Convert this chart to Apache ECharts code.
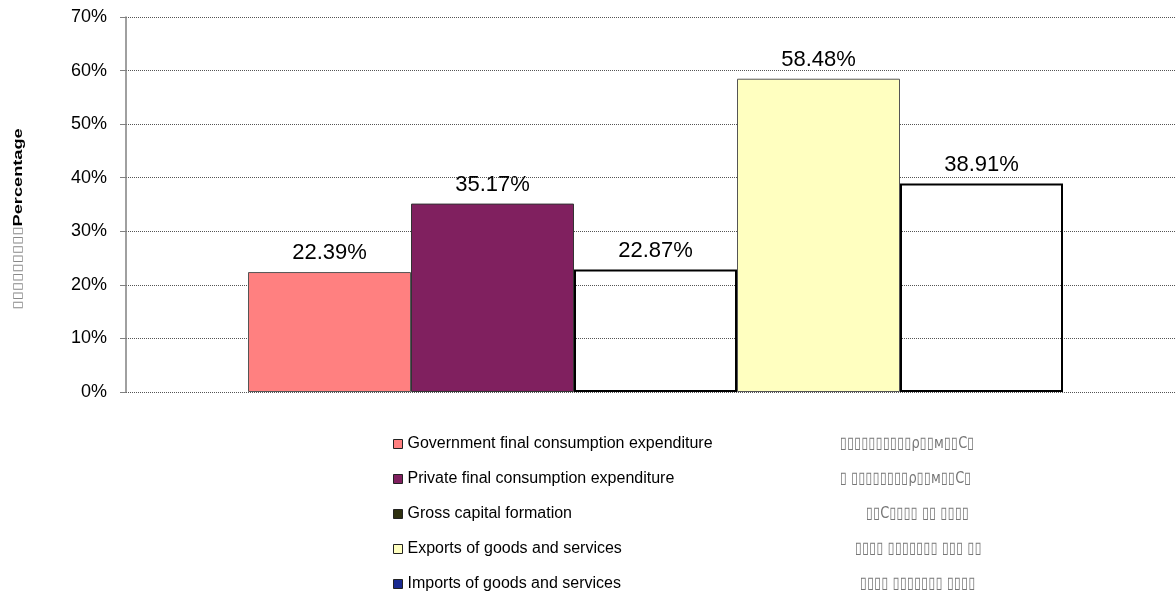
<!DOCTYPE html>
<html>
<head>
<meta charset="utf-8">
<script src="https://cdn.jsdelivr.net/npm/echarts@6/dist/echarts.min.js"></script>
<style>
  html, body { margin: 0; padding: 0; background: #fff; }
  #chart { width: 1176px; height: 592px; }
</style>
</head>
<body>
<div id="chart"></div>
<script>
// data
const categories = ['']
const seriesNames = [
    'Government final consumption expenditure',
    'Private final consumption expenditure',
    'Gross capital formation',
    'Exports of goods and services',
    'Imports of goods and services'
]
const govValues = [22.39]
const privValues = [35.17]
const grossValues = [22.87]
const exportValues = [58.48]
const importValues = [38.91]
const yTicks = [0, 10, 20, 30, 40, 50, 60, 70]

// garbled (missing glyph) notes next to the legend, kept as text
const notes = [
    '▯▯▯▯▯▯▯▯▯▯ρ▯▯м▯▯С▯',
    '▯ ▯▯▯▯▯▯▯▯ρ▯▯м▯▯С▯',
    '▯▯С▯▯▯▯ ▯▯ ▯▯▯▯',
    '▯▯▯▯ ▯▯▯▯▯▯▯ ▯▯▯ ▯▯',
    '▯▯▯▯ ▯▯▯▯▯▯▯ ▯▯▯▯'
]
const noteX = [840, 840, 866, 855, 860]

const FONT = '"Liberation Sans", Arial, sans-serif'
const barFills = ['#FF8080', '#80205F', 'rgba(0,0,0,0)', '#FFFFC0', 'rgba(0,0,0,0)']
const barBorders = ['#555', '#333', '#000', '#555', '#000']
const barBorderW = [1, 1, 2, 1, 2]
const legendColors = ['#FF8080', '#80205F', '#2E3010', '#FFFFC0', '#1A2A90']
const allValues = [govValues, privValues, grossValues, exportValues, importValues]

const myChart = echarts.init(document.getElementById('chart'))

const series = seriesNames.map((name, i) => ({
    name: name,
    type: 'bar',
    barWidth: 163,
    barGap: '0%',
    data: allValues[i],
    itemStyle: {
        color: barFills[i],
        borderColor: barBorders[i],
        borderWidth: barBorderW[i]
    },
    label: {
        show: true,
        position: 'top',
        distance: 8,
        color: '#000',
        fontSize: 22,
        fontFamily: FONT,
        formatter: (p) => p.value.toFixed(2) + '%'
    }
}))

const graphic = [{
    type: 'text',
    x: 18,
    y: 219,
    rotation: Math.PI / 2,
    scaleX: 1.4,
    style: {
        text: '{t|▯▯▯▯▯▯▯▯▯}{b|Percentage}',
        align: 'center',
        verticalAlign: 'middle',
        rich: {
            t: { fontSize: 12, fontFamily: '"DejaVu Sans"', fill: '#888' },
            b: { fontSize: 13, fontWeight: 'bold', fontFamily: FONT, fill: '#000' }
        }
    }
}]
notes.forEach((n, i) => {
    graphic.push({
        type: 'text',
        x: noteX[i],
        y: 444 + i * 35,
        scaleY: 1.25,
        style: {
            text: n,
            align: 'left',
            verticalAlign: 'middle',
            fontSize: 13,
            fontFamily: '"DejaVu Sans"',
            fill: '#777'
        }
    })
})

const option = {
    animation: false,
    backgroundColor: '#fff',
    grid: { left: 126, width: 1059, top: 17, height: 375, containLabel: false, outerBoundsMode: 'none' },
    legend: {
        orient: 'vertical',
        left: 393,
        top: 436,
        height: 170,
        padding: 0,
        itemWidth: 9,
        itemHeight: 9,
        itemGap: 19,
        selectedMode: false,
        icon: 'rect',
        textStyle: { fontSize: 16, lineHeight: 16, fontFamily: FONT, color: '#000' },
        data: seriesNames.map((name, i) => ({
            name: name,
            itemStyle: { color: legendColors[i], borderColor: '#222', borderWidth: 1 }
        }))
    },
    xAxis: {
        type: 'category',
        data: categories,
        axisLine: { show: false },
        axisTick: { show: false },
        axisLabel: { show: false }
    },
    yAxis: {
        type: 'value',
        min: yTicks[0],
        max: yTicks[yTicks.length - 1],
        interval: 10,
        axisLine: { show: true, lineStyle: { color: '#808080', width: 1.5 } },
        axisTick: { show: true, length: 6, lineStyle: { color: '#808080' } },
        axisLabel: {
            formatter: '{value}%',
            fontSize: 18,
            fontFamily: FONT,
            color: '#000',
            margin: 19
        },
        splitLine: { show: true, lineStyle: { color: '#555', type: [1, 1], width: 1 } }
    },
    graphic: graphic,
    series: series
}

myChart.setOption(option)
</script>
</body>
</html>
